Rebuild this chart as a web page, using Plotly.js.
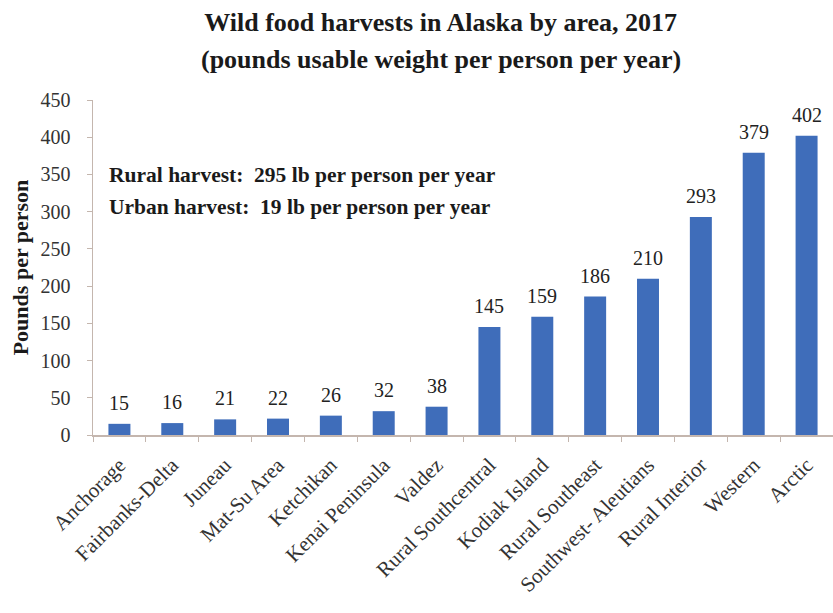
<!DOCTYPE html>
<html>
<head>
<meta charset="utf-8">
<script src="https://cdn.plot.ly/plotly-3.0.1.min.js"></script>
<style>html,body{margin:0;padding:0;background:#fff;}#chart{width:833px;height:613px;}</style>
</head>
<body>
<div id="chart"></div>
<script>
var areas = ["Anchorage", "Fairbanks-Delta", "Juneau", "Mat-Su Area", "Ketchikan", "Kenai Peninsula", "Valdez",
  "Rural Southcentral", "Kodiak Island", "Rural Southeast", "Southwest- Aleutians", "Rural Interior", "Western", "Arctic"];
var pounds = [15, 16, 21, 22, 26, 32, 38, 145, 159, 186, 210, 293, 379, 402];
var yTicks = [0, 50, 100, 150, 200, 250, 300, 350, 400, 450];
var titleLine1 = "Wild food harvests in Alaska by area, 2017";
var titleLine2 = "(pounds usable weight per person per year)";
var noteLines = ["Rural harvest:&nbsp; 295 lb per person per year", "Urban harvest:&nbsp; 19 lb per person per year"];

var serif = "Liberation Serif, Times New Roman, serif";
var axisColor = "#c4b6ae";

var trace = {
  type: "bar",
  x: areas,
  y: pounds,
  marker: {color: "#3f6dba"},
  hoverinfo: "x+y"
};

var annotations = pounds.map(function (v, i) {
  return {x: areas[i], y: v, xref: "x", yref: "y", text: String(v), showarrow: false,
    yanchor: "bottom", yshift: 8, font: {family: serif, size: 20, color: "#222"}};
});
annotations.push({x: 0.019, y: 0.776, xref: "paper", yref: "paper", xanchor: "left", yanchor: "middle",
  text: "<b>" + noteLines[0] + "</b>", showarrow: false, font: {family: serif, size: 21.5, color: "#1a1a1a"}});
annotations.push({x: 0.019, y: 0.681, xref: "paper", yref: "paper", xanchor: "left", yanchor: "middle",
  text: "<b>" + noteLines[1] + "</b>", showarrow: false, font: {family: serif, size: 21.5, color: "#1a1a1a"}});
annotations.push({x: 0.470, y: 1.122, xref: "paper", yref: "paper", xanchor: "center", yanchor: "middle",
  text: "<b>" + titleLine2 + "</b>", showarrow: false, font: {family: serif, size: 26, color: "#1a1a1a"}});

var layout = {
  width: 833, height: 613,
  margin: {l: 93, r: 0, t: 100, b: 178},
  paper_bgcolor: "#fff", plot_bgcolor: "#fff",
  showlegend: false,
  bargap: 0.584,
  title: {text: "<b>" + titleLine1 + "</b>", x: 0.529, xref: "container", xanchor: "center",
    y: 0.964, yref: "container", yanchor: "middle",
    font: {family: serif, size: 26, color: "#1a1a1a"}},
  xaxis: {
    type: "category", range: [-0.5, areas.length - 0.5], automargin: false,
    showline: true, linecolor: axisColor, linewidth: 1.5,
    ticks: "outside", tickson: "boundaries", ticklen: 5, tickcolor: axisColor,
    tickangle: -45, ticklabelstandoff: 8,
    tickfont: {family: serif, size: 21, color: "#333"},
    showgrid: false, zeroline: false
  },
  yaxis: {
    range: [0, 450], automargin: false,
    tickvals: yTicks, ticktext: yTicks.map(String),
    showline: true, linecolor: axisColor, linewidth: 1.5,
    ticks: "outside", ticklen: 5, tickcolor: axisColor, ticklabelstandoff: 12,
    tickfont: {family: serif, size: 20, color: "#333"},
    showgrid: false, zeroline: false,
    title: {text: "<b>Pounds per person</b>", standoff: 6, font: {family: serif, size: 22, color: "#1a1a1a"}}
  },
  annotations: annotations
};

Plotly.newPlot("chart", [trace], layout, {displayModeBar: false, staticPlot: true});
</script>
</body>
</html>
